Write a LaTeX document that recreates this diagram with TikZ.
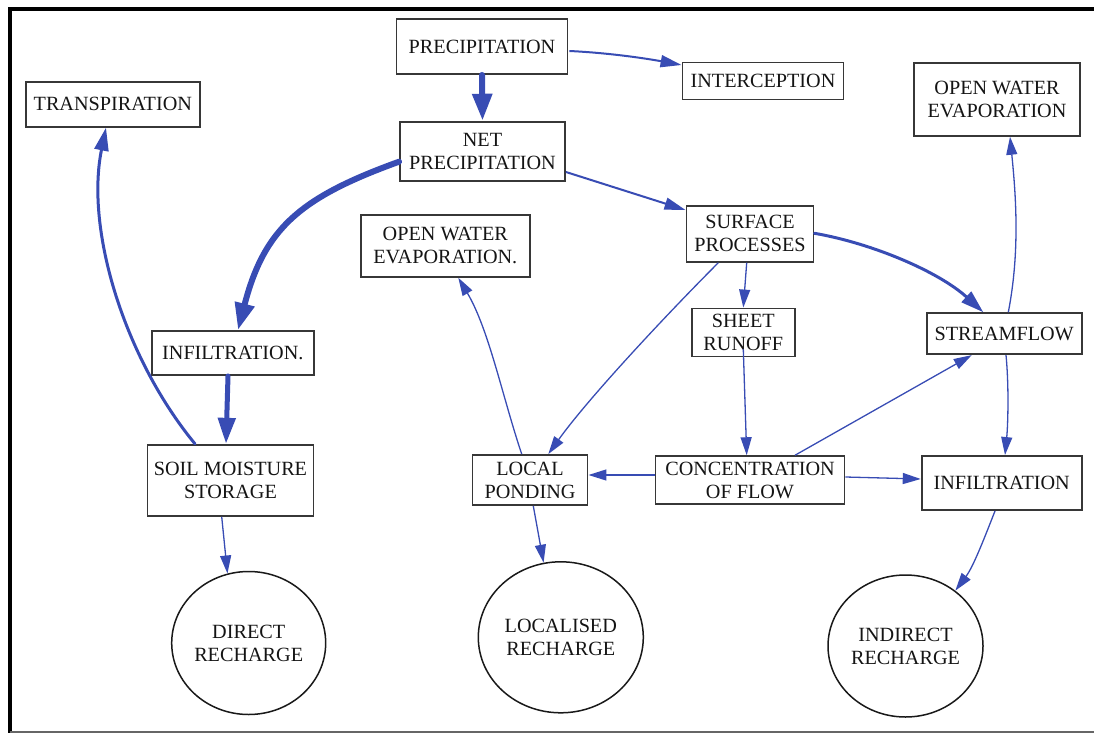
\documentclass[tikz,border=0pt]{standalone}
\usepackage{fontspec}
\setmainfont{Liberation Serif}
\usetikzlibrary{arrows.meta,shapes.geometric,calc}
\definecolor{flow}{RGB}{56,76,180}
\definecolor{boxc}{RGB}{55,55,55}
\newcommand{\nodefont}{\fontsize{20.2}{23}\selectfont}
\begin{document}
\begin{tikzpicture}[x=1pt,y=-1pt,
  box/.style={draw=boxc, line width=1.9pt, inner sep=0pt, align=center, font=\nodefont, text=black!92},
  circ/.style={ellipse, draw=black!90, line width=1.5pt, inner sep=0pt, align=center, font=\nodefont, text=black!92},
  thin/.style={draw=flow, line width=1.3pt, -{Triangle[length=18pt,width=11pt]}},
  mid/.style={draw=flow, line width=2pt, -{Triangle[length=21pt,width=12pt]}},
  medium/.style={draw=flow, line width=3pt, line cap=round, -{Triangle[length=23pt,width=14pt]}},
  heavy/.style={draw=flow, line width=5pt, line cap=round, -{Triangle[length=26pt,width=17pt]}},
  heavier/.style={draw=flow, line width=6pt, line cap=round, -{Triangle[length=27pt,width=19pt]}}]
\useasboundingbox (0,0) rectangle (1094,733);
% frame
\draw[line width=4pt] (1094,9.5) -- (10.3,9.5) -- (10.3,733);
\draw[line width=2pt, black!60] (10,731.8) -- (1094,731.8);
% nodes
\node[box, minimum width=171pt, minimum height=55pt] (prec) at (482,46.5) {PRECIPITATION};
\node[box, minimum width=161pt, minimum height=37pt] (interc) at (763,81) {INTERCEPTION};
\node[box, minimum width=174pt, minimum height=45pt] (transp) at (112.8,104.2) {TRANSPIRATION};
\node[box, minimum width=165pt, minimum height=59pt] (net) at (482.5,151.2) {NET\\PRECIPITATION};
\node[box, minimum width=166pt, minimum height=73pt] (oweR) at (997,99.3) {OPEN WATER\\EVAPORATION};
\node[box, minimum width=169pt, minimum height=62pt] (oweM) at (445.3,245.8) {OPEN WATER\\EVAPORATION.};
\node[box, minimum width=127pt, minimum height=56pt] (surf) at (750,233.8) {SURFACE\\PROCESSES};
\node[box, minimum width=103pt, minimum height=48pt] (sheet) at (743.3,332.5) {SHEET\\RUNOFF};
\node[box, minimum width=155pt, minimum height=41pt] (stream) at (1004.2,333.7) {STREAMFLOW};
\node[box, minimum width=162pt, minimum height=44pt] (infA) at (232.8,353) {INFILTRATION.};
\node[box, minimum width=166pt, minimum height=71pt] (soil) at (230.5,480.3) {SOIL MOISTURE\\STORAGE};
\node[box, minimum width=115pt, minimum height=50pt] (pond) at (530,480) {LOCAL\\PONDING};
\node[box, minimum width=189pt, minimum height=48pt] (conc) at (750,480.2) {CONCENTRATION\\OF FLOW};
\node[box, minimum width=160pt, minimum height=54pt] (infB) at (1001.7,483) {INFILTRATION};
\node[circ, minimum width=154pt, minimum height=143pt] (direct) at (248.7,643) {DIRECT\\RECHARGE};
\node[circ, minimum width=165pt, minimum height=151pt] (localc) at (560.8,637.3) {LOCALISED\\RECHARGE};
\node[circ, minimum width=155pt, minimum height=142pt] (indirect) at (905.5,646) {INDIRECT\\RECHARGE};
% connectors
\draw[heavier] (prec.south) -- (net.north);
\draw[mid] ($(prec.east)+(1,4.5)$) .. controls +(42,2) and +(-32.5,-6) .. ($(interc.west)+(0,-16)$);
\draw[mid] ($(net.east)+(0,20.8)$) -- ($(surf.west)+(0,-23.8)$);
\draw[heavier] ($(net.west)+(0,10.5)$) .. controls +(-98.7,35.7) and +(26.3,-101.9) .. ($(infA.north)+(5.2,0)$);
\draw[heavy] ($(infA.south)+(-4.8,0)$) -- ($(soil.north)+(-4.5,0)$);
\draw[medium] ($(soil.north)+(-35.5,0)$) .. controls +(-70,-85) and +(-21,103) .. ($(transp.south)+(-6.8,0)$);
\draw[thin] ($(soil.south)+(-8.8,0)$) -- (direct.107);
\draw[thin] ($(surf.south)+(-3.3,0)$) -- (sheet.north);
\draw[thin] ($(surf.south)+(-31.7,0)$) .. controls +(-49.5,49.5) and +(40.6,-56.7) .. ($(pond.north)+(18.3,0)$);
\draw[medium] ($(surf.east)+(0,-0.5)$) .. controls +(58.7,10.2) and +(-44.3,-40.3) .. ($(stream.north)+(-20.9,0)$);
\draw[thin] ($(sheet.south)+(0,-8.2)$) -- ($(conc.north)+(-3.3,0)$);
\draw[thin] ($(stream.north)+(4.1,0)$) .. controls +(11.7,-60.3) and +(6,59.7) .. ($(oweR.south)+(13,0)$);
\draw[thin] ($(stream.south)+(1.8,0)$) .. controls +(3,31) and +(3,-31) .. ($(infB.north)+(3.3,0)$);
\draw[thin] ($(conc.north)+(45,0)$) -- ($(stream.south)+(-32.5,0)$);
\draw[thin] ($(conc.west)+(0,-5.2)$) -- ($(pond.east)+(0,-5)$);
\draw[thin] ($(conc.east)+(0,-3.2)$) -- ($(infB.west)+(0,-4)$);
\draw[thin] ($(pond.north)+(-8.3,0)$) .. controls +(-19.2,-57) and +(30.6,51.6) .. ($(oweM.south)+(13,0)$);
\draw[thin] ($(pond.south)+(3.3,0)$) -- (localc.103);
\draw[thin] ($(infB.south)+(-6.7,0)$) .. controls +(-11,28) and +(18,-24) .. (indirect.48);
\end{tikzpicture}
\end{document}
